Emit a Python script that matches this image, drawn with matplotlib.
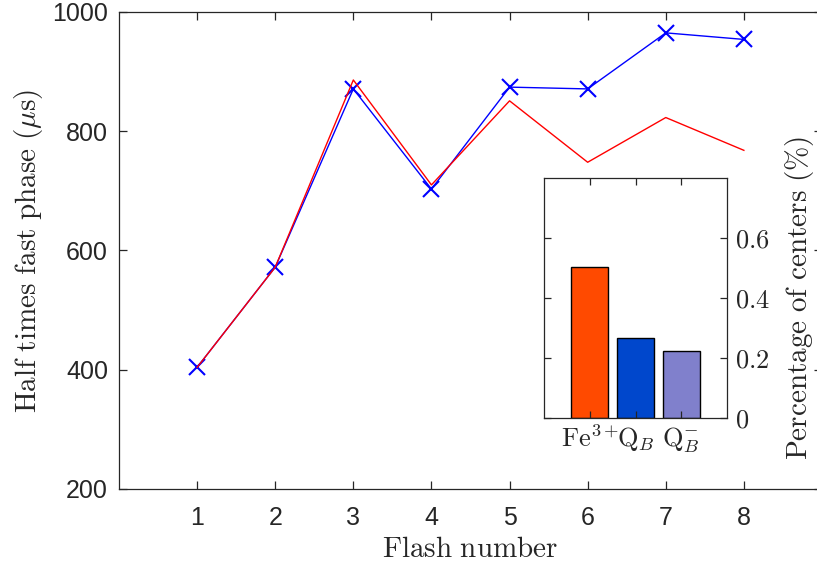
import matplotlib
matplotlib.use("Agg")
import matplotlib.pyplot as plt
import numpy as np

plt.rcParams['mathtext.fontset'] = 'cm'
plt.rcParams['font.family'] = ['Liberation Sans', 'DejaVu Sans']

# Half times of the fast phase per flash
flashes = [1, 2, 3, 4, 5, 6, 7, 8]
measured = [404, 572, 871, 703, 874, 871, 965, 954]
model = [404, 572, 886, 710, 851, 748, 823, 768]

# Inset: share of centers per state
states = [r'$\mathrm{Fe}^{3+}$', r'$\mathrm{Q}_B$', r'$\mathrm{Q}_B^{-}$']
shares = [0.503, 0.268, 0.224]
share_colors = ['#FF4A00', '#0047CC', '#8080CC']

axcol = '#262626'
W, H = 817, 568
fig = plt.figure(figsize=(W / 100, H / 100), dpi=100)

def px_axes(l, t, r, b):
    return fig.add_axes([l / W, 1 - b / H, (r - l) / W, (b - t) / H])

ax = px_axes(119, 12, 822, 489)
ax.plot(flashes, measured, color='blue', lw=1.0, marker='x', ms=11, mew=1.5, zorder=2)
ax.plot(flashes, model, color='red', lw=1.0, zorder=3)
ax.set_xlim(0, 9)
ax.set_ylim(200, 1000)
ax.set_xticks(flashes)
ax.set_yticks([200, 400, 600, 800, 1000])
ax.tick_params(direction='in', length=6, width=0.9, colors=axcol, labelsize=18,
               top=True, right=True, pad=8)
ax.tick_params(axis='x', pad=12)
for s in ax.spines.values():
    s.set_color(axcol)
    s.set_linewidth(0.9)
ax.set_xlabel(r'$\mathrm{Flash\ number}$', fontsize=21, color=axcol, labelpad=4)
ax.set_ylabel(r'$\mathrm{Half\ times\ fast\ phase\ (}\mu\mathrm{s)}$', fontsize=21,
              color=axcol, labelpad=5)

ins = px_axes(544, 178, 727, 418)
ins.bar([1, 2, 3], shares, width=0.8, color=share_colors, edgecolor='black', lw=1.0)
ins.set_xlim(0, 4)
ins.set_ylim(0, 0.8)
ins.set_xticks([1, 2, 3])
ins.set_xticklabels(states)
ins.set_yticks([0, 0.2, 0.4, 0.6])
ins.set_yticklabels([r'$0$', r'$0.2$', r'$0.4$', r'$0.6$'])
ins.yaxis.tick_right()
ins.yaxis.set_label_position('right')
ins.tick_params(direction='in', length=5, width=0.9, colors=axcol, labelsize=19,
                top=True, left=True, right=True, pad=6)
ins.tick_params(axis='x', pad=5)
for s in ins.spines.values():
    s.set_color(axcol)
    s.set_linewidth(0.9)
ins.set_ylabel(r'$\mathrm{Percentage\ of\ centers\ (\%)}$', fontsize=21, color=axcol,
               labelpad=9)

fig.savefig('out.png', dpi=100)
